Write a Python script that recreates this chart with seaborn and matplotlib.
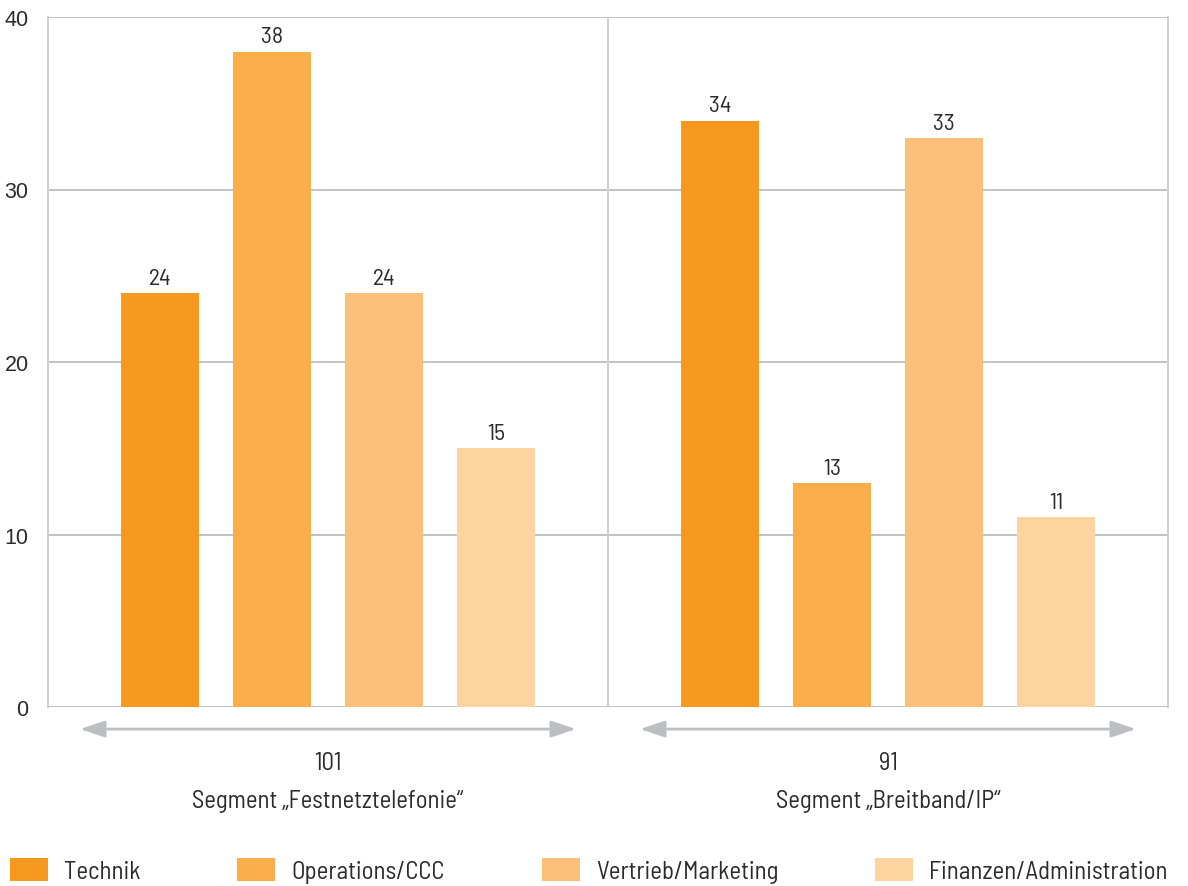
import matplotlib
matplotlib.use("Agg")
import matplotlib.pyplot as plt
from matplotlib import font_manager
from matplotlib.patches import Patch
import seaborn as sns
import pandas as pd

# --- data -------------------------------------------------------------
segments = ["Segment „Festnetztelefonie“", "Segment „Breitband/IP“"]
segment_totals = [101, 91]
bereiche = ["Technik", "Operations/CCC", "Vertrieb/Marketing", "Finanzen/Administration"]
werte_festnetz = [24, 38, 24, 15]
werte_breitband = [34, 13, 33, 11]
farben = ["#F7991E", "#F9AD4B", "#FBBF79", "#FDD4A0"]
y_ticks = [0, 10, 20, 30, 40]

# --- fonts ------------------------------------------------------------
sns.set_theme(style="white")
names = {f.name for f in font_manager.fontManager.ttflist}
narrow = next((n for n in ["Barlow Semi Condensed", "Roboto Condensed", "Fira Sans Condensed"]
               if n in names), "DejaVu Sans")
plt.rcParams["font.family"] = [narrow, "DejaVu Sans"]
txt_color = "#2B2B2B"
grid_color = "#C2C2C5"
tick_font = "Liberation Sans" if "Liberation Sans" in names else "DejaVu Sans"

# --- long table: each segment spans 5 slots, bars sit on slots 1..4 ----
rows = []
for s, werte in enumerate([werte_festnetz, werte_breitband]):
    for i, (b, v) in enumerate(zip(bereiche, werte)):
        rows.append({"pos": s * 5 + i + 1, "wert": v, "bereich": b, "segment": segments[s]})
df = pd.DataFrame(rows)

fig = plt.figure(figsize=(11.88, 8.87), dpi=100)
ax = fig.add_axes([48 / 1188, 1 - 708 / 887, 1120 / 1188, 690 / 887])

sns.barplot(data=df, x="pos", y="wert", hue="bereich", hue_order=bereiche,
            palette=farben, native_scale=True, dodge=False, width=0.705,
            saturation=1, legend=False, ax=ax, zorder=3, linewidth=0)

ax.set_xlim(0, 10)
ax.set_ylim(0, 40)
ax.set_yticks(y_ticks)
ax.set_yticklabels([str(t) for t in y_ticks], family=tick_font,
                   fontsize=15.5, color=txt_color)
ax.set_xticks([])
ax.set_xlabel("")
ax.set_ylabel("")
ax.tick_params(axis="y", length=0, pad=14)

for y in y_ticks:
    ax.axhline(y, color=grid_color, lw=1.4, zorder=1)
ax.axvline(5, color="#CFCFD2", lw=1.4, zorder=1)
for side in ["top", "bottom"]:
    ax.spines[side].set_visible(False)
for side in ["left", "right"]:
    ax.spines[side].set_visible(True)
    ax.spines[side].set_color("#CFCFD2")
    ax.spines[side].set_linewidth(1.4)

for cont in ax.containers:
    ax.bar_label(cont, fmt="%d", padding=3, fontsize=17, color=txt_color)

# segment arrows and captions below the axis
for s, (name, total) in enumerate(zip(segments, segment_totals)):
    x0 = s * 5 + 0.285
    x1 = s * 5 + 4.715
    ax.annotate("", xy=(x1, -1.28), xytext=(x0, -1.28), xycoords="data",
                annotation_clip=False,
                arrowprops=dict(arrowstyle="<|-|>,head_length=1.5,head_width=0.5",
                                mutation_scale=10, color="#BDBEC2", lw=2,
                                shrinkA=0, shrinkB=0))
    ax.text(s * 5 + 2.5, -3.2, str(total), ha="center", va="center",
            fontsize=17.8, color=txt_color, clip_on=False)
    ax.text(s * 5 + 2.5, -5.4, name, ha="center", va="center",
            fontsize=17.8, color=txt_color, clip_on=False)

handles = [Patch(facecolor=c, edgecolor="none", label=b) for b, c in zip(bereiche, farben)]
fig.legend(handles=handles, loc="lower left", bbox_to_anchor=(10 / 1188, 3 / 887),
           ncol=4, frameon=False, fontsize=17.9, handlelength=1.53, handleheight=1.0,
           handletextpad=0.64, columnspacing=3.9, borderpad=0, borderaxespad=0,
           labelcolor=txt_color)

fig.savefig("out.png", dpi=100, facecolor="white")
